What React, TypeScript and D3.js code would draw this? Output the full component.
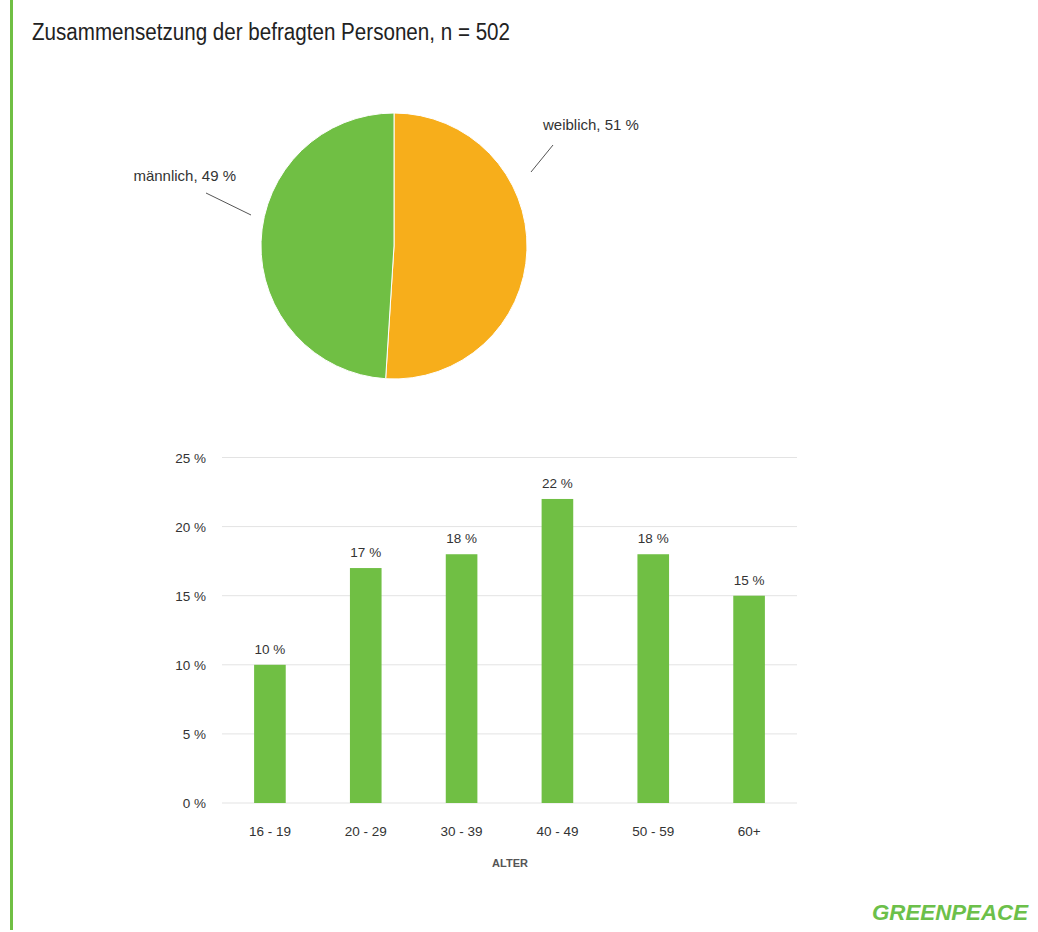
import React from "react";
import * as d3 from "d3";

const titleText = "Zusammensetzung der befragten Personen, n = 502";
const genderLabels = ["weiblich", "männlich"];
const genderValues = [51, 49];
const genderColors = ["#f7ae1b", "#70bf44"];

const ageCategories = ["16 - 19", "20 - 29", "30 - 39", "40 - 49", "50 - 59", "60+"];
const ageValues = [10, 17, 18, 22, 18, 15];
const yTicks = [0, 5, 10, 15, 20, 25];
const xAxisTitle = "ALTER";

const W = 1038;
const H = 932;
const FONT = "'Liberation Sans Narrow', 'Liberation Sans', Arial, sans-serif";
const GREEN = "#70bf44";
const TEXT = "#333333";

export default function App() {
  // Pie
  const cx = 394, cy = 246, r = 133;
  const pie = d3.pie<number>().sort(null).value((d) => d)(genderValues);
  const arc = d3.arc<d3.PieArcDatum<number>>().innerRadius(0).outerRadius(r);

  const labelInfo = [
    { tx: 543, ty: 130, anchor: "start", line: [[531, 172], [553, 145]] },
    { tx: 236, ty: 181, anchor: "end", line: [[251, 215], [206, 193]] },
  ];

  // Bars
  const x = d3.scaleBand<string>().domain(ageCategories).range([222, 797]).paddingInner(0.67).paddingOuter(0.335);
  const y = d3.scaleLinear().domain([0, 25]).range([803, 457.5]);

  return (
    <svg width={W} height={H} style={{ position: "absolute", left: 0, top: 0 }} fontFamily={FONT}>
      <rect x={0} y={0} width={W} height={H} fill="#ffffff" />
      <rect x={10} y={0} width={3} height={930} fill={GREEN} />
      <text x={32} y={40} fontSize={23} fill="#222" textLength={478} lengthAdjust="spacingAndGlyphs">{titleText}</text>

      {/* Pie */}
      <g transform={`translate(${cx},${cy})`}>
        {pie.map((p, i) => (
          <path key={i} d={arc(p) || ""} fill={genderColors[i]} stroke="#ffffff" strokeWidth={1} />
        ))}
      </g>
      {pie.map((p, i) => {
        const li = labelInfo[i];
        return (
          <g key={"l" + i}>
            <line x1={li.line[0][0]} y1={li.line[0][1]} x2={li.line[1][0]} y2={li.line[1][1]} stroke="#555" strokeWidth={1} />
            <text x={li.tx} y={li.ty} fontSize={15} fill={TEXT} textAnchor={li.anchor as any}>
              {`${genderLabels[i]}, ${genderValues[i]} %`}
            </text>
          </g>
        );
      })}

      {/* Bar chart grid */}
      {yTicks.map((t) => (
        <g key={"t" + t}>
          <line x1={222} x2={797} y1={y(t)} y2={y(t)} stroke="#e3e3e3" strokeWidth={1} />
          <text x={206} y={y(t) + 5} fontSize={13.5} fill={TEXT} textAnchor="end">{`${t} %`}</text>
        </g>
      ))}
      {ageCategories.map((c, i) => (
        <g key={c}>
          <rect x={x(c)!} y={y(ageValues[i])} width={x.bandwidth()} height={y(0) - y(ageValues[i])} fill={GREEN} />
          <text x={x(c)! + x.bandwidth() / 2} y={y(ageValues[i]) - 11} fontSize={13.5} fill={TEXT} textAnchor="middle">{`${ageValues[i]} %`}</text>
          <text x={x(c)! + x.bandwidth() / 2} y={836} fontSize={13.5} fill={TEXT} textAnchor="middle">{c}</text>
        </g>
      ))}
      <text x={510} y={867} fontSize={11} fontWeight="bold" fill="#555" textAnchor="middle">{xAxisTitle}</text>

      {/* Logo */}
      <text x={872} y={920} fontSize={22} fontWeight="bold" fontStyle="italic" fill="#6cc04a" textLength={156} lengthAdjust="spacingAndGlyphs">GREENPEACE</text>
    </svg>
  );
}
